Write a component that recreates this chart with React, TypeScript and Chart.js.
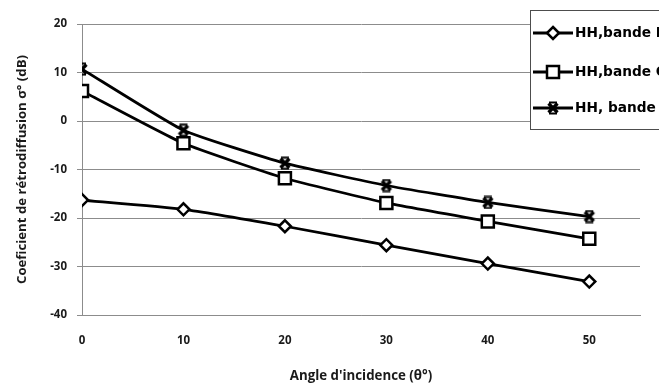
import React, { useEffect, useRef } from "react";
import { Chart, registerables } from "chart.js";

Chart.register(...registerables);

const angles = [0, 10, 20, 30, 40, 50];
const bandeL = [-16.3, -18.2, -21.7, -25.6, -29.4, -33.1];
const bandeC = [6.2, -4.6, -11.8, -16.9, -20.7, -24.3];
const bandeX = [10.7, -1.9, -8.7, -13.3, -16.8, -19.7];
const seriesNames = ["HH,bande L", "HH,bande C", "HH, bande X"];
const xTitle = "Angle d'incidence (θ°)";
const yTitle = "Coeficient de rétrodiffusion σ° (dB)";

const FONT = "'Open Sans', sans-serif";
const LFONT = "'DejaVu Sans', sans-serif";
const GRID = "#8c8c8c";
const TXT = "#1a1a1a";

function makeXMarker(): HTMLCanvasElement {
  const c = document.createElement("canvas");
  c.width = 14;
  c.height = 14;
  const ctx = c.getContext("2d")!;
  ctx.strokeStyle = "#000";
  ctx.lineWidth = 3.3;
  ctx.lineCap = "butt";
  ctx.beginPath();
  ctx.moveTo(2.5, 2.5);
  ctx.lineTo(11.5, 11.5);
  ctx.moveTo(11.5, 2.5);
  ctx.lineTo(2.5, 11.5);
  ctx.stroke();
  ctx.lineWidth = 2;
  ctx.beginPath();
  ctx.moveTo(3, 1.5);
  ctx.lineTo(11, 1.5);
  ctx.moveTo(3, 12.5);
  ctx.lineTo(11, 12.5);
  ctx.stroke();
  return c;
}

function drawMarker(ctx: CanvasRenderingContext2D, i: number, x: number, y: number, xm: HTMLCanvasElement) {
  ctx.strokeStyle = "#000";
  ctx.fillStyle = "#fff";
  ctx.lineWidth = 2.5;
  ctx.beginPath();
  if (i === 0) {
    const r = 6;
    ctx.moveTo(x, y - r);
    ctx.lineTo(x + r, y);
    ctx.lineTo(x, y + r);
    ctx.lineTo(x - r, y);
    ctx.closePath();
    ctx.fill();
    ctx.stroke();
  } else if (i === 1) {
    const s = 6;
    ctx.rect(x - s, y - s, 2 * s, 2 * s);
    ctx.fill();
    ctx.stroke();
  } else {
    ctx.drawImage(xm, x - 7, y - 7);
  }
}

export default function App() {
  const ref = useRef<HTMLCanvasElement | null>(null);
  useEffect(() => {
    if (!ref.current) return;
    const xm = makeXMarker();
    const legendPlugin = {
      id: "customLegend",
      afterDraw(chart: any) {
        const ctx = chart.ctx as CanvasRenderingContext2D;
        ctx.save();
        const bx = 530.5, by = 10.5, bw = 200, bh = 119;
        ctx.fillStyle = "#ffffff";
        ctx.fillRect(bx, by, bw, bh);
        ctx.strokeStyle = "#4d4d4d";
        ctx.lineWidth = 1;
        ctx.strokeRect(bx, by, bw, bh);
        const ys = [33, 72, 108];
        seriesNames.forEach((name, i) => {
          const y = ys[i];
          ctx.strokeStyle = "#000";
          ctx.lineWidth = 3;
          ctx.beginPath();
          ctx.moveTo(533, y);
          ctx.lineTo(573, y);
          ctx.stroke();
          drawMarker(ctx, i, 553, y, xm);
          ctx.fillStyle = "#000";
          ctx.font = `bold 13.7px ${LFONT}`;
          ctx.textBaseline = "middle";
          ctx.textAlign = "left";
          ctx.fillText(name, 575, y + 0.5);
        });
        ctx.restore();
      },
    };
    const pStyles: any[] = ["rectRot", "rect", xm];
    const pRadius = [6, 8.5, 7];
    const mk = (vals: number[]) => angles.map((a, i) => ({ x: a, y: vals[i] }));
    const chart = new Chart(ref.current, {
      type: "scatter",
      data: {
        datasets: [bandeL, bandeC, bandeX].map((vals, i) => ({
          label: seriesNames[i],
          data: mk(vals),
          showLine: true,
          borderColor: "#000",
          borderWidth: 2.75,
          backgroundColor: "#fff",
          pointBackgroundColor: "#fff",
          pointBorderColor: "#000",
          pointBorderWidth: 2.5,
          pointStyle: pStyles[i],
          pointRadius: pRadius[i],
          tension: 0.15,
        })),
      },
      options: {
        animation: false,
        responsive: true,
        maintainAspectRatio: false,
        layout: { padding: { top: 24, right: 11, left: 0, bottom: 0 } },
        plugins: { legend: { display: false }, tooltip: { enabled: false } },
        scales: {
          x: {
            type: "linear",
            min: 0,
            max: 55,
            grid: { display: false, drawTicks: false },
            border: { display: true, color: GRID, width: 1 },
            ticks: {
              stepSize: 10,
              padding: 19,
              color: TXT,
              font: { family: FONT, size: 11.5, weight: "bold" },
              callback: (v: any) => (Number(v) % 10 === 0 ? String(v) : ""),
            },
            title: {
              display: true,
              text: xTitle,
              color: TXT,
              font: { family: FONT, size: 13.3, weight: "bold" },
              padding: { top: 0, bottom: 3 },
            },
            afterFit: (s: any) => {
              s.height = 72;
            },
          },
          y: {
            min: -40,
            max: 20,
            grid: { color: GRID, lineWidth: 1, drawTicks: true, tickLength: 5 },
            border: { display: true, color: GRID, width: 1 },
            ticks: {
              stepSize: 10,
              padding: 10,
              color: TXT,
              font: { family: FONT, size: 11.5, weight: "bold" },
            },
            title: {
              display: true,
              text: yTitle,
              color: TXT,
              font: { family: FONT, size: 13.2, weight: "bold" },
              padding: { top: 14, bottom: 0 },
            },
            afterFit: (s: any) => {
              s.width = 82;
            },
          },
        },
      },
      plugins: [legendPlugin],
    } as any);
    return () => chart.destroy();
  }, []);
  return (
    <div style={{ position: "fixed", left: 0, top: 0, width: 659, height: 387, background: "#fff" }}>
      <canvas ref={ref} />
    </div>
  );
}
